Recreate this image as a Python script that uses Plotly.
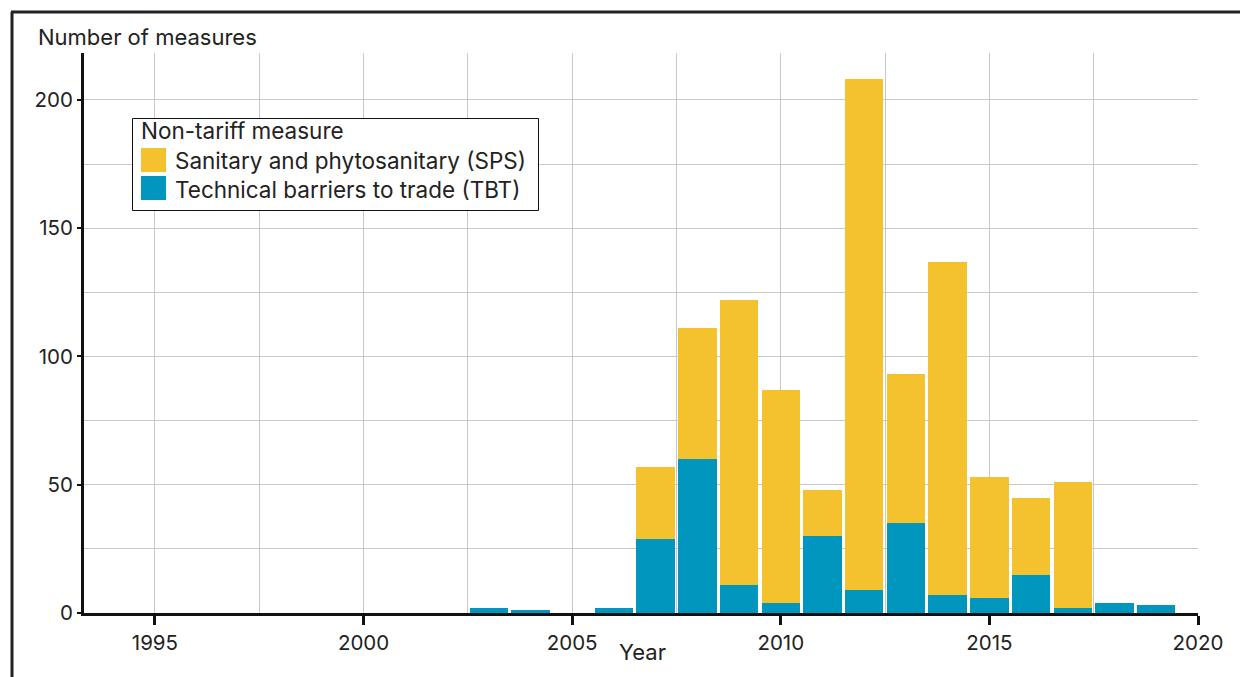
import plotly.graph_objects as go

years = [2003, 2004, 2006, 2007, 2008, 2009, 2010, 2011, 2012, 2013, 2014, 2015, 2016, 2017, 2018, 2019]
tbt = [2, 1, 2, 29, 60, 11, 4, 30, 9, 35, 7, 6, 15, 2, 4, 3]
sps = [0, 0, 0, 28, 51, 111, 83, 18, 199, 58, 130, 47, 30, 49, 0, 0]
sps_name = "Sanitary and phytosanitary (SPS)"
tbt_name = "Technical barriers to trade (TBT)"
legend_title = "Non-tariff measure"

YELLOW = "#F4C22E"
BLUE = "#0096BE"
FONT = "Inter, Roboto, sans-serif"
TXT = "#222222"

fig = go.Figure()
fig.add_trace(go.Bar(x=years, y=tbt, name=tbt_name, showlegend=False,
                     marker=dict(color=BLUE, line=dict(width=0))))
fig.add_trace(go.Bar(x=years, y=sps, name=sps_name, showlegend=False,
                     marker=dict(color=YELLOW, line=dict(width=0))))

OFF = 8  # page body margin
W, H = 1240, 669
L, R, T, B = 84 - OFF, 50, 53 - OFF, 64
pw = W - L - R
ph = H - T - B

def px(x):
    return (x - OFF - L) / pw

def py(y):
    return (H - B - (y - OFF)) / ph

shapes = [
    dict(type="line", xref="paper", yref="paper", x0=px(12), x1=px(12),
         y0=py(700), y1=py(12), line=dict(color="#222222", width=3)),
    dict(type="line", xref="paper", yref="paper", x0=px(11), x1=px(1260),
         y0=py(12), y1=py(12), line=dict(color="#222222", width=3)),
    # legend box
    dict(type="rect", xref="paper", yref="paper", x0=px(132.5), x1=px(538.5),
         y0=py(210.5), y1=py(118.5), line=dict(color="#111111", width=1),
         fillcolor="white", layer="above"),
    dict(type="rect", xref="paper", yref="paper", x0=px(141), x1=px(166),
         y0=py(172), y1=py(148), line=dict(width=0), fillcolor=YELLOW, layer="above"),
    dict(type="rect", xref="paper", yref="paper", x0=px(141), x1=px(166),
         y0=py(200), y1=py(176), line=dict(width=0), fillcolor=BLUE, layer="above"),
]

def ann(text, x, y, xanchor="left", size=22):
    return dict(text=text, xref="paper", yref="paper", x=px(x), y=py(y),
                xanchor=xanchor, yanchor="middle", showarrow=False,
                font=dict(size=size, color=TXT, family=FONT))

annotations = [
    ann("Number of measures", 36, 37, size=22),
    ann("Year", 642, 652, xanchor="center", size=22),
    ann(legend_title, 139, 131, size=22.5),
    ann(sps_name, 173, 160, size=22.5),
    ann(tbt_name, 173, 189, size=22.5),
]

fig.update_layout(
    width=W, height=H,
    margin=dict(l=L, r=R, t=T, b=B, autoexpand=False),
    barmode="stack", bargap=0.08,
    plot_bgcolor="white", paper_bgcolor="white",
    font=dict(family=FONT, size=20, color=TXT),
    showlegend=False,
    xaxis=dict(
        range=[1993.3, 2020], tickmode="linear", tick0=1995, dtick=5,
        showgrid=True, gridcolor="#c8c8c8", gridwidth=1,
        minor=dict(dtick=2.5, tick0=1995, showgrid=True, gridcolor="#c8c8c8", gridwidth=1),
        showline=True, linecolor="#111111", linewidth=3,
        ticks="outside", ticklen=9, tickwidth=3, tickcolor="#111111",
        zeroline=False, ticklabelstandoff=0,
        tickfont=dict(size=20.5),
    ),
    yaxis=dict(
        range=[0, 218.3], tickmode="linear", tick0=0, dtick=50,
        showgrid=True, gridcolor="#c8c8c8", gridwidth=1,
        minor=dict(dtick=25, tick0=0, showgrid=True, gridcolor="#c8c8c8", gridwidth=1),
        showline=True, linecolor="#111111", linewidth=3,
        ticks="outside", ticklen=4, tickwidth=2, tickcolor="#111111",
        zeroline=False, tickfont=dict(size=20.5),
    ),
    annotations=annotations,
    shapes=shapes,
)

fig.write_html("out.html")
